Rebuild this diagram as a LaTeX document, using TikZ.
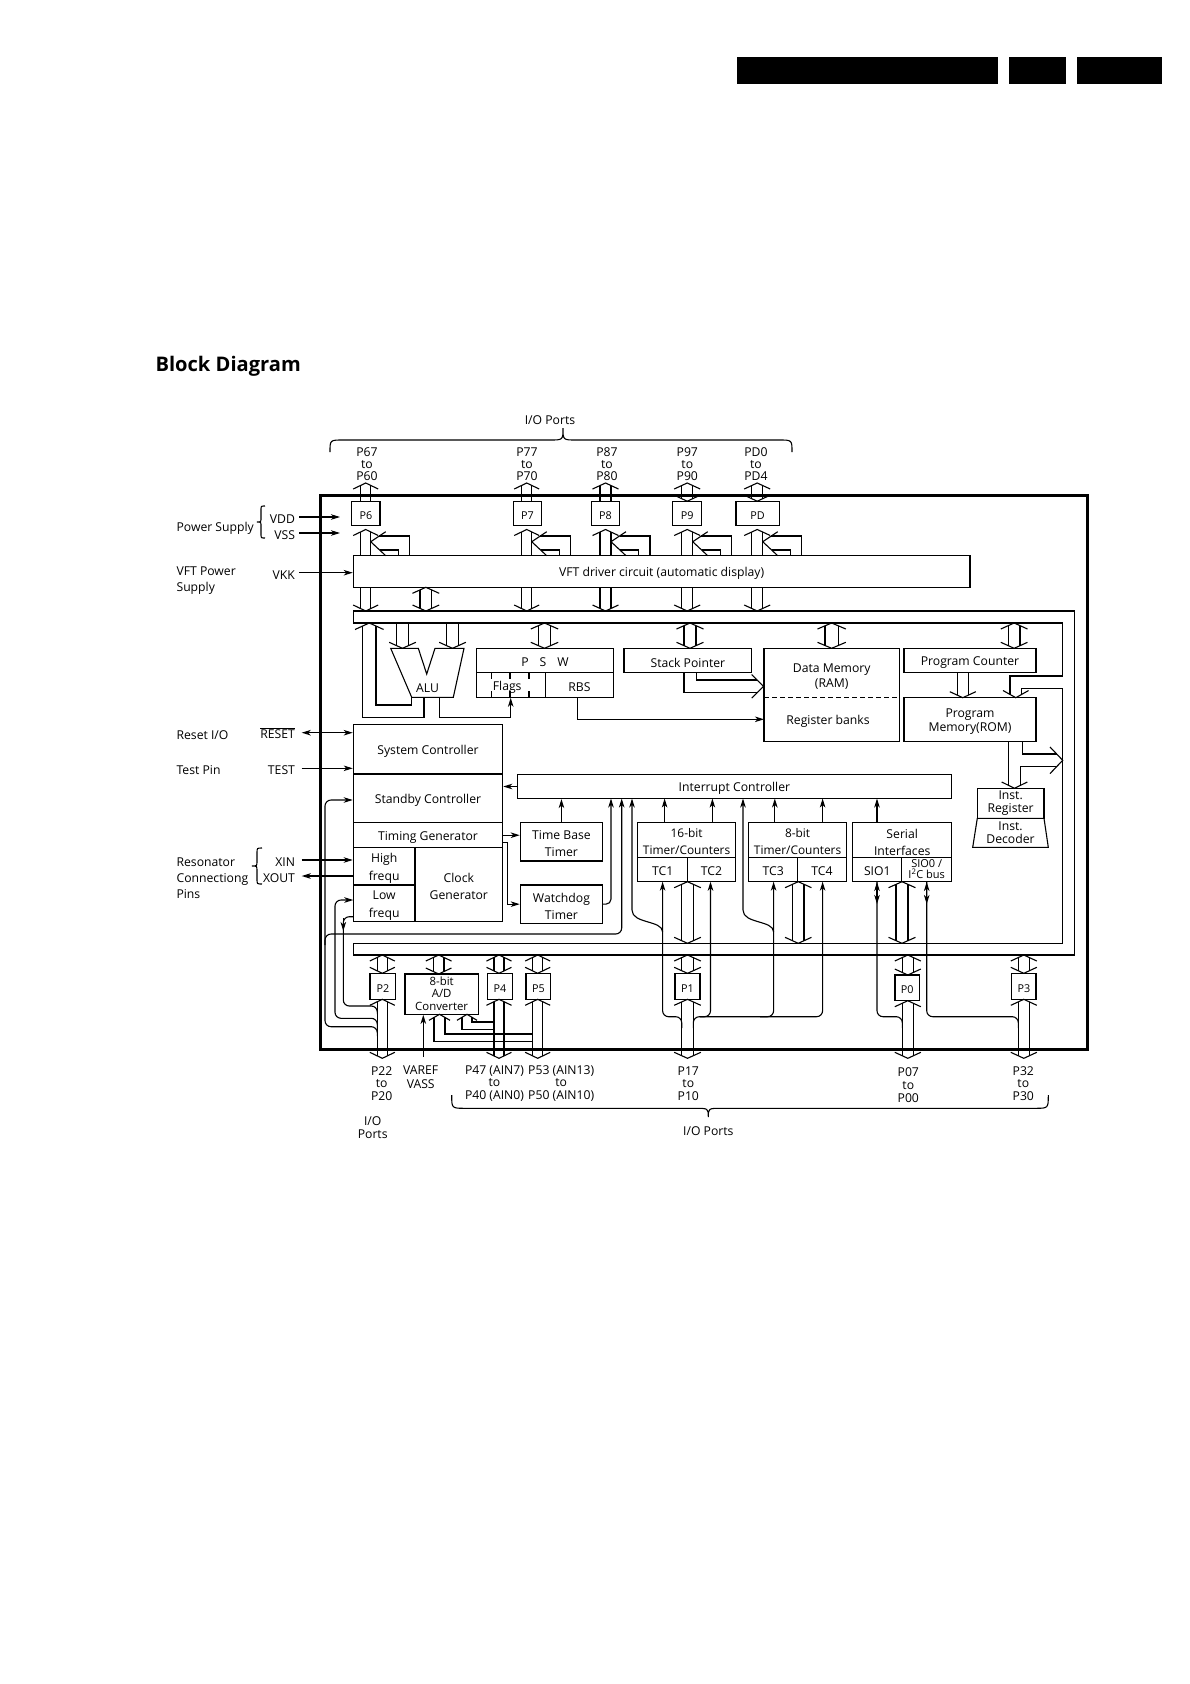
\documentclass[tikz,border=0pt]{standalone}
\usepackage{fontspec}
\setmainfont{Open Sans}
\usetikzlibrary{arrows.meta}
\newcommand\fs{\fontsize{12.2}{12.3}\selectfont}
\newcommand\fsk[1]{\fontsize{12.2}{#1}\selectfont}
\newcommand\fsp{\fontsize{10.8}{12}\selectfont}
\newcommand\WAset[2]{%
  \pgfmathsetmacro\WAc{(#1+#2)/2}%
  \pgfmathsetmacro\WAh{(#2-#1)/2+7.5}%
  \pgfmathsetmacro\WAo{6*((#2-#1)/2)/\WAh}}
% wide arrow pointing up: x1 x2 tip base
\newcommand\WUp[4]{\WAset{#1}{#2}%
  \draw ({\WAc-\WAh},{#3+6}) -- (\WAc,#3) -- ({\WAc+\WAh},{#3+6});
  \draw (#1,{#3+\WAo}) -- (#1,#4) (#2,{#3+\WAo}) -- (#2,#4);}
% wide arrow pointing down: x1 x2 tip base
\newcommand\WDown[4]{\WAset{#1}{#2}%
  \draw ({\WAc-\WAh},{#3-6}) -- (\WAc,#3) -- ({\WAc+\WAh},{#3-6});
  \draw (#1,{#3-\WAo}) -- (#1,#4) (#2,{#3-\WAo}) -- (#2,#4);}
% wide double arrow: x1 x2 toptip bottomtip
\newcommand\WBoth[4]{\WAset{#1}{#2}%
  \draw ({\WAc-\WAh},{#3+6}) -- (\WAc,#3) -- ({\WAc+\WAh},{#3+6});
  \draw ({\WAc-\WAh},{#4-6}) -- (\WAc,#4) -- ({\WAc+\WAh},{#4-6});
  \draw (#1,{#3+\WAo}) -- (#1,{#4-\WAo}) (#2,{#3+\WAo}) -- (#2,{#4-\WAo});}
\newcommand\Trans[1]{%
  \draw (#1,541.7) -- ({#1+15},531.7) (#1,541.7) -- ({#1+15},555.7);
  \draw ({#1+8.5},536) -- ({#1+39},536) -- ({#1+39},555.7);
  \draw ({#1+9},550) -- ({#1+27.5},550) -- ({#1+27.5},555.7);}
\newcommand\blk[7][]{\node[blk,minimum width={(#5-#3)*1pt},minimum height={(#6-#4)*1pt}] (#2) at ({(#3+#5)/2},{(#4+#6)/2}) {};
  \node[tx,align=center,#1] (#2t) at (#2.center) {#7};}
\begin{document}
\begin{tikzpicture}[x=1pt,y=-1pt,line width=1.1pt,
  every node/.style={font=\fs,inner sep=0pt},
  blk/.style={draw,inner sep=0pt},
  tx/.style={yshift=-2pt},
  lbl/.style={align=center,font=\fs},
  >={Stealth[length=9pt,width=5.5pt,inset=2.5pt]}]
\useasboundingbox (0,0) rectangle (1190,1684);
% header bars
\fill (736.7,56.7) rectangle (997.7,84.3);
\fill (1009.3,56.7) rectangle (1065.7,84.3);
\fill (1077.3,56.7) rectangle (1161.7,84.3);
\node[tx,anchor=west,font=\fontsize{20.1}{22}\selectfont\bfseries] (title) at (155,364) {Block Diagram};
% outer box
\draw[line width=3pt] (320,495) rectangle (1087.5,1049);
% top brace
\draw (330,452) .. controls (330,440) .. (343,440) -- (550,440) .. controls (563,440) .. (563,428) .. controls (563,440) .. (576,440) -- (779,440) .. controls (792,440) .. (792,452);
\node[tx] (ioTop) at (550,418) {I/O Ports};
% top port labels
\node[lbl] (l6) at (367,464) {P67\\to\\P60};
\node[lbl] (l7) at (527,464) {P77\\to\\P70};
\node[lbl] (l8) at (607,464) {P87\\to\\P80};
\node[lbl] (l9) at (687.3,464) {P97\\to\\P90};
\node[lbl] (lD) at (756,464) {PD0\\to\\PD4};
% top port boxes
\blk[font=\fsp]{p6}{351.7}{501.7}{380}{525.7}{P6}
\blk[font=\fsp]{p7}{513.3}{501.7}{541.7}{525.7}{P7}
\blk[font=\fsp]{p8}{591.7}{501.7}{619.3}{525.7}{P8}
\blk[font=\fsp]{p9}{672.7}{501.7}{701.7}{525.7}{P9}
\blk[font=\fsp]{pd}{736}{501.7}{779.3}{525.7}{PD}
\WUp{360.7}{370.7}{483}{501.7}
\WUp{521.7}{531.7}{483}{501.7}
\WUp{600}{611}{483}{501.7}
\WBoth{681.7}{692.7}{483}{501.2}
\WBoth{751.7}{762.7}{483}{501.2}
\WUp{360.7}{370.7}{529.5}{555.7}
\WUp{521.7}{531.7}{529.5}{555.7}
\WUp{600}{611}{529.5}{555.7}
\WUp{681.7}{692.7}{529.5}{555.7}
\WUp{751.7}{762.7}{529.5}{555.7}
\Trans{370.7}\Trans{531.7}\Trans{611}\Trans{692.7}\Trans{762.7}
% VFT
\blk{vft}{353.3}{555.7}{970}{587.3}{VFT driver circuit (automatic display)}
\WDown{360.7}{370.7}{611}{587.3}
\WDown{521.7}{531.7}{611}{587.3}
\WDown{600}{611}{611}{587.3}
\WDown{681.7}{692.7}{611}{587.3}
\WDown{751.7}{762.7}{611}{587.3}
\WBoth{420}{431.7}{587.3}{611}
% left labels
\node[tx,anchor=west] (ps) at (176,526) {Power Supply};
\draw (265,506) .. controls (261,506) .. (261,510) -- (261,518) .. controls (261,522) .. (257,522) .. controls (261,522) .. (261,526) -- (261,534) .. controls (261,538) .. (265,538);
\node[tx,anchor=east] (vdd) at (295.5,517) {VDD};
\node[tx,anchor=east] (vss) at (295.5,533) {VSS};
\coordinate (vddA) at (299,517);
\coordinate (vssA) at (299,533);
\draw[->] (vddA) -- ++(41,0);
\draw[->] (vssA) -- ++(41,0);
\node[tx,anchor=west,align=left,font=\fsk{15.3}] (vftp) at (176,578.5) {VFT Power\\Supply};
\node[tx,anchor=east] (vkk) at (295.5,572.7) {VKK};
\coordinate (vkkA) at (299,572.7);
\draw[->] (vkkA) -- (vkkA -| vft.west);
% bus
\draw (353.3,611) -- (1074.5,611) -- (1074.5,955) -- (353.3,955) -- (353.3,943.3) -- (1062.7,943.3) -- (1062.7,688.3) -- (1021.7,688.3) -- (1021.7,694.2);
\draw (353.3,611) -- (353.3,623) -- (1062.7,623) -- (1062.7,676) -- (1010,676) -- (1010,694.2);
\draw (1003,690.5) -- (1015.8,697.7) -- (1028.6,690.5);
% ALU
\draw (390.7,648.3) -- (418.3,648.3) -- (426.7,674) -- (435,648.3) -- (464,648.3) -- (453.3,697.3) -- (411.7,697.3) -- cycle;
\node[tx] (alu) at (427.5,686.5) {ALU};
\WDown{396.7}{408.3}{648.3}{623}
\WDown{446.7}{458.3}{648.3}{623}
\draw (355,629.5) -- (369.3,623) -- (383.6,629.5);
\draw (362.7,625.8) -- (362.7,717.3) -- (424,717.3) -- (424,697.3);
\draw (376,625.8) -- (376,705) -- (411.7,705) -- (411.7,697.3);
\draw[->] (439.3,697.3) -- (439.3,717.3) -- (510.7,717.3) -- (510.7,697.8);
% PSW
\blk{psw}{476.7}{648.3}{613.3}{672.7}{P\hspace{11pt}S\hspace{11pt}W}
\blk{flags}{476.7}{672.7}{545.7}{697.3}{\hspace*{-8pt}Flags}
\blk{rbs}{545.7}{672.7}{613.3}{697.3}{RBS}
\foreach \xx in {491.7,510,529} {\draw (\xx,672.7) -- (\xx,679) (\xx,691) -- (\xx,697.3);}
\WBoth{538.3}{550.7}{623}{648.3}
\draw[->] (577.7,697.3) -- (577.7,719.3) -- (764,719.3);
% stack pointer
\blk{sp}{624}{648.3}{751.7}{672.7}{Stack Pointer}
\WBoth{684}{696}{623}{648.3}
\draw (684,672.7) -- (684,692.7) -- (757.3,692.7);
\draw (696.7,672.7) -- (696.7,680) -- (757.3,680);
\draw (751.7,674.5) -- (763.5,686.3) -- (751.7,698.1);
% data memory
\blk{dmem}{764}{648.3}{899.3}{741.7}{}
\draw[dash pattern=on 5pt off 3pt] (764,697.7) -- (899.3,697.7);
\node[tx,lbl,font=\fsk{15}] (dmt) at (831.7,675) {Data Memory\\(RAM)};
\node[tx] (rbk) at (828,719) {Register banks};
\WBoth{825}{838.3}{623}{648.3}
% program counter / memory
\blk{pc}{904}{648.3}{1036}{672.7}{Program Counter}
\WBoth{1008.3}{1020}{623}{648.3}
\WDown{957.3}{968.3}{697.7}{672.7}
\blk[font=\fsk{14}]{pm}{904}{697.7}{1036}{741.7}{Program\\Memory(ROM)}
\draw (1008.3,741.7) -- (1008.3,785.2);
\draw (1022.7,741.7) -- (1022.7,754) -- (1056.7,754);
\draw (1056.7,766.7) -- (1020.7,766.7) -- (1020.7,785.2);
\draw (1050,747) -- (1062.7,760.3) -- (1050,773.6);
\draw (1001.7,782) -- (1014.5,788.3) -- (1027.3,782);
\blk[font=\fsk{12.7},yshift=2.5pt]{ir}{977.3}{788.3}{1044}{818.3}{Inst.\\Register}
\draw (977.3,818.3) -- (1044,818.3) -- (1048.3,847.3) -- (972.7,847.3) -- cycle;
\node[lbl,font=\fsk{12.7}] (idec) at (1010.5,832.5) {Inst.\\Decoder};
% left controller blocks
\blk{sysc}{353.3}{724.3}{502.7}{774}{System Controller}
\blk{stby}{353.3}{774}{502.7}{822.7}{Standby Controller}
\blk{tgen}{353.3}{822.7}{502.7}{847.7}{Timing Generator}
\blk[font=\fsk{18}]{hf}{353.3}{847.7}{415}{885}{High\\frequ}
\blk[font=\fsk{17.7}]{lf}{353.3}{885}{415}{921.5}{Low\\frequ}
\blk[font=\fsk{16.7}]{cg}{415}{847.7}{502.7}{921.5}{Clock\\Generator}
\node[tx,anchor=west] (rio) at (176,732.7) {Reset I/O};
\node[tx,anchor=east] (rst) at (295.5,731.5) {$\overline{\mbox{RESET}}$};
\coordinate (rstA) at (301.7,732.7);
\draw[<->] (rstA) -- (rstA -| sysc.west);
\node[tx,anchor=west] (tpin) at (176,768.3) {Test Pin};
\node[tx,anchor=east] (tst) at (295.5,768.3) {TEST};
\coordinate (tstA) at (301.7,768.3);
\draw[->] (tstA) -- (tstA -| sysc.west);
\node[tx,anchor=west,align=left,font=\fsk{16}] (reso) at (176,876) {Resonator\\Connectiong\\Pins};
\draw (262,848) .. controls (257,848) .. (257,853) -- (257,861) .. controls (257,866) .. (252,866) .. controls (257,866) .. (257,871) -- (257,879) .. controls (257,884) .. (262,884);
\node[tx,anchor=east] (xin) at (295.5,860) {XIN};
\node[tx,anchor=east] (xout) at (295.5,876) {XOUT};
\coordinate (xinA) at (301.7,860);
\coordinate (xoutA) at (301.7,876);
\draw[->] (xinA) -- (xinA -| hf.west);
\draw[<-] (xoutA) -- (xoutA -| hf.west);
% interrupt controller
\blk{ic}{517.2}{774.5}{951.6}{798.5}{Interrupt Controller}
\draw[->] (ic.west) -- (ic.west -| stby.east);
\blk[font=\fsk{16.7}]{tbt}{520.3}{822.7}{602.6}{861}{Time Base\\Timer}
\blk[font=\fsk{17}]{wdt}{520.3}{885}{602.6}{923.3}{Watchdog\\Timer}
\draw[->] (tgen.east) -- (tgen.east -| tbt.west);
\draw[->] (502.7,842.7) -- (507.7,842.7) -- (507.7,904.15) -- (wdt.west);
\draw[->] (tbt.north) -- (tbt.north |- ic.south);
\draw[->,rounded corners=5] (wdt.east) -- (611,904.15) -- (611,798.5);
% timers
\blk[font=\fontsize{11.9}{17}\selectfont]{t16}{637.8}{822.7}{735.4}{857.3}{16-bit\\Timer/Counters}
\blk{tc1}{637.8}{857.3}{687.5}{881.7}{TC1}
\blk{tc2}{687.5}{857.3}{735.4}{881.7}{TC2}
\blk[font=\fontsize{11.9}{17}\selectfont]{t8}{748.8}{822.7}{846.4}{857.3}{8-bit\\Timer/Counters}
\blk{tc3}{748.8}{857.3}{797.7}{881.7}{TC3}
\blk{tc4}{797.7}{857.3}{846.4}{881.7}{TC4}
\blk[font=\fsk{17}]{ser}{852.8}{822.7}{951.6}{857.3}{Serial\\Interfaces}
\blk{sio1}{852.8}{857.3}{901.8}{881.7}{SIO1}
\blk[font=\fontsize{11}{11.5}\selectfont,yshift=2.5pt]{sio0}{901.8}{857.3}{951.6}{881.7}{SIO0 /\\I\textsuperscript{2}C bus}
\foreach \xx in {664.6,712.4,774.8,822.6,877} {\draw[->] (\xx,822.7) -- (\xx,798.5);}
\WBoth{681.7}{693.3}{881.7}{943.3}
\WBoth{792.5}{804}{881.7}{943.3}
\WBoth{896}{908}{881.7}{943.3}
% pin lines to timers
\draw[->,rounded corners=6] (681.7,1028) -- (681.7,1016.7) -- (662.6,1016.7) -- (662.6,881.7);
\draw[->,rounded corners=6] (693.3,1028) -- (693.3,1016.7) -- (822.6,1016.7) -- (822.6,881.7);
\draw[->,rounded corners=6] (700,1016.7) -- (710.5,1016.7) -- (710.5,881.7);
\draw[->,rounded corners=6] (760,1016.7) -- (773.6,1016.7) -- (773.6,881.7);
\draw[->] (662.6,932) .. controls (662.6,920) and (632,924) .. (632,910) -- (632,798.5);
\draw[->] (773.6,932) .. controls (773.6,920) and (743,924) .. (743,910) -- (743,798.5);
\draw[rounded corners=6] (877,881.7) -- (877,1016.7) -- (902.3,1016.7) -- (902.3,1028);
\draw[<->] (877,882) -- (877,904);
\draw[rounded corners=6] (926.7,881.7) -- (926.7,1016.7) -- (1018.3,1016.7) -- (1018.3,1028);
\draw[<->] (926.7,882) -- (926.7,904);
% lines from P2 to clock/standby/interrupt
\draw[->,rounded corners=6] (377.3,1036) -- (377.3,1026.7) -- (325,1026.7) -- (325,800) -- (stby.west |- 325,800);
\draw[->,rounded corners=6] (325,945) -- (325,934) -- (621.7,934) -- (621.7,798.5);
\draw[->,rounded corners=6] (377.3,1030) -- (377.3,1018.3) -- (335,1018.3) -- (335,900) -- (353.3,900);
\draw[rounded corners=6] (353.3,916.7) -- (343.3,916.7) -- (343.3,1006) -- (377.3,1006) -- (377.3,1014);
\draw[->] (343.3,918) -- (343.3,931);
% bottom ports
\blk[font=\fsp]{p2}{370}{973.3}{395.7}{999.3}{P2}
\blk[font=\fontsize{11.4}{12.4}\selectfont,yshift=2.5pt]{ad}{405}{974}{478.3}{1014.3}{8-bit\\A/D\\Converter}
\blk[font=\fsp]{p4}{487.7}{973.3}{512.3}{999.3}{P4}
\blk[font=\fsp]{p5}{526}{973.3}{550.7}{999.3}{P5}
\blk[font=\fsp]{p1}{675}{973.3}{700}{999.3}{P1}
\blk[font=\fsp]{p0}{895}{975}{919.3}{1000.7}{P0}
\blk[font=\fsp]{p3}{1011.7}{973.3}{1036}{999.3}{P3}
\WBoth{377.3}{387.3}{955}{973.3}
\WBoth{433.3}{444}{955}{974}
\WBoth{494}{504}{955}{973.3}
\WBoth{532.7}{542.7}{955}{973.3}
\WBoth{681.7}{693.3}{955}{973.3}
\WBoth{902.3}{913.3}{955}{975}
\WBoth{1018.3}{1029.3}{955}{973.3}
\WBoth{377.3}{387.3}{999.3}{1058.3}
\WBoth{494}{504}{999.3}{1058.3}
\WBoth{532.7}{542.7}{999.3}{1058.3}
\WBoth{681.7}{693.3}{999.3}{1058.3}
\WBoth{902.3}{913.3}{1000.7}{1058.3}
\WBoth{1018.3}{1029.3}{999.3}{1058.3}
% A/D inputs
\draw (429,1020.3) -- (439.5,1014.3) -- (450,1020.3);
\draw (434,1017.4) -- (434,1041.7) -- (532.7,1041.7);
\draw (445,1017.4) -- (445,1034) -- (532.7,1034);
\draw (457,1020.3) -- (467,1014.3) -- (477,1020.3);
\draw (462,1017.3) -- (462,1029.3) -- (494,1029.3);
\draw (472,1017.3) -- (472,1022) -- (494,1022);
\coordinate (vrefA) at (423.3,1057);
\draw[->] (vrefA) -- (vrefA |- ad.south);
% bottom labels
\node[lbl,font=\fsk{12.7}] (l2) at (381.7,1083.5) {P22\\to\\P20};
\node[lbl,font=\fsk{13.3}] (lvr) at (420.7,1077.3) {VAREF\\VASS};
\node[lbl,font=\fsk{12.7}] (l4) at (494.5,1083.5) {P47 (AIN7)\\to\\P40 (AIN0)};
\node[lbl,font=\fsk{12.7}] (l5) at (561.2,1083.5) {P53 (AIN13)\\to\\P50 (AIN10)};
\node[lbl,font=\fsk{12.7}] (l1) at (688.3,1083.5) {P17\\to\\P10};
\node[lbl,font=\fsk{12.7}] (l0) at (908.3,1085) {P07\\to\\P00};
\node[lbl,font=\fsk{12.7}] (l3) at (1023.3,1083.5) {P32\\to\\P30};
\node[lbl,font=\fsk{13}] (iob) at (372.7,1127.5) {I/O\\Ports};
\draw (451.7,1095) .. controls (451.7,1108.3) .. (465,1108.3) -- (695,1108.3) .. controls (708.3,1108.3) .. (708.3,1117) .. controls (708.3,1108.3) .. (721.6,1108.3) -- (1035,1108.3) .. controls (1048.3,1108.3) .. (1048.3,1095);
\node[tx] (ioBot) at (708.3,1129.3) {I/O Ports};
\end{tikzpicture}
\end{document}
